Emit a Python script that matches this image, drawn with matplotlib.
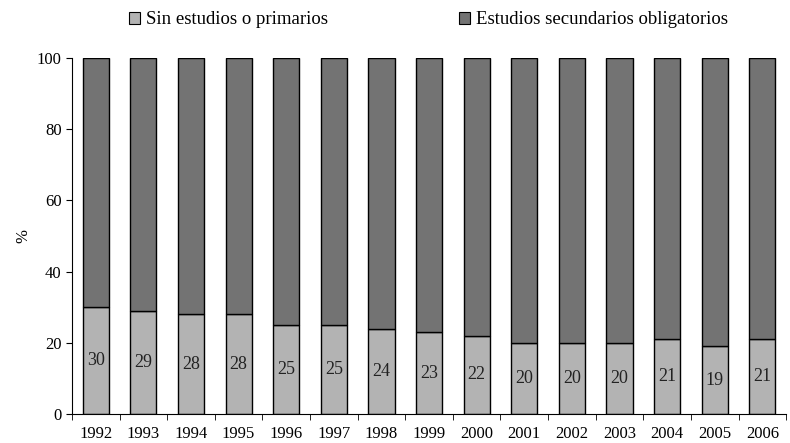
import numpy as np
import matplotlib.pyplot as plt
from matplotlib.patches import Patch

plt.rcParams['font.family'] = ['Liberation Serif', 'DejaVu Serif']

years = ['1992', '1993', '1994', '1995', '1996', '1997', '1998', '1999',
         '2000', '2001', '2002', '2003', '2004', '2005', '2006']
primarios = [30, 29, 28, 28, 25, 25, 24, 23, 22, 20, 20, 20, 21, 19, 21]
secundarios = [100 - v for v in primarios]
legend_labels = ['Sin estudios o primarios', 'Estudios secundarios obligatorios']

light = '#b3b3b3'
dark = '#737373'

fig = plt.figure(figsize=(7.9, 4.43), dpi=100)
ax = fig.add_axes([0.0911, 0.0655, 0.904, 0.8035])

x = np.arange(len(years))
w = 0.55
ax.bar(x, primarios, width=w, color=light, edgecolor='black', linewidth=1)
ax.bar(x, secundarios, width=w, bottom=primarios, color=dark, edgecolor='black', linewidth=1)

for xi, v in zip(x, primarios):
    ax.text(xi, v / 2, str(v), ha='center', va='center', fontsize=13, color='#222222')

ax.set_xlim(-0.5, len(years) - 0.5)
ax.set_ylim(0, 100)
ax.set_yticks(range(0, 101, 20))
ax.tick_params(axis='y', labelsize=12, direction='out', length=4)

# category labels centred, ticks between categories
ax.set_xticks(x)
ax.set_xticklabels(years, fontsize=12)
ax.tick_params(axis='x', which='major', length=0, pad=9)
ax.set_xticks(np.arange(-0.5, len(years), 1), minor=True)
ax.tick_params(axis='x', which='minor', length=4, direction='out')

for s in ['top', 'right']:
    ax.spines[s].set_visible(False)
ax.set_ylabel('%', fontsize=12)

colors = [light, dark]
xpos = [129 / 790, 459 / 790]
for lab, c, xp in zip(legend_labels, colors, xpos):
    h = Patch(facecolor=c, edgecolor='black', linewidth=0.8)
    leg = fig.legend([h], [lab], loc='center left', bbox_to_anchor=(xp, 1 - 20 / 443),
                     frameon=False, fontsize=13.5, handlelength=0.6, handleheight=0.6,
                     handletextpad=0.3, borderpad=0, borderaxespad=0)

fig.savefig('out.png', dpi=100)
